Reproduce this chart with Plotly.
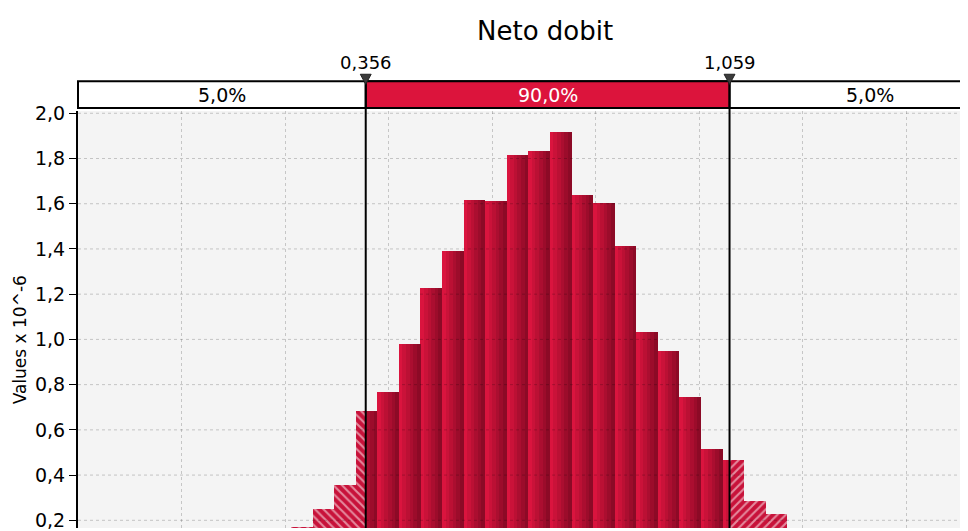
import plotly.graph_objects as go

# ---------------- data ----------------
title_text = "Neto dobit"
y_title = "Values x 10^-6"

bin_centers = [0.2326, 0.2742, 0.3159, 0.3576, 0.3993, 0.4410, 0.4826, 0.5243,
               0.5660, 0.6077, 0.6494, 0.6910, 0.7327, 0.7744, 0.8161, 0.8578,
               0.8994, 0.9411, 0.9828, 1.0245, 1.0662, 1.1078, 1.1495]
bin_width = 0.04168
densities = [0.170, 0.250, 0.356, 0.684, 0.768, 0.978, 1.227, 1.391,
             1.615, 1.610, 1.817, 1.835, 1.918, 1.637, 1.602, 1.413,
             1.031, 0.948, 0.746, 0.517, 0.465, 0.285, 0.228]

pct_marks = [0.356, 1.059]
pct_labels = ["5,0%", "90,0%", "5,0%"]
y_ticks = [0.2, 0.4, 0.6, 0.8, 1.0, 1.2, 1.4, 1.6, 1.8, 2.0]
x_grid_ticks = [0.0, 0.2, 0.4, 0.6, 0.8, 1.0, 1.2, 1.4]
x_full = [-0.2, 1.6]          # full axis extent of the original chart
x_view = [-0.2, 1.5198]       # visible part
y_view = [0.166, 2.01]

FONT = "DejaVu Sans"
CRIMSON = "#DC143C"
c_light = (218, 20, 62)
c_dark = (140, 10, 38)

fig = go.Figure()

lo_mark, hi_mark = pct_marks


def clip(a, b, lo, hi):
    a2, b2 = max(a, lo), min(b, hi)
    return (a2, b2) if b2 > a2 else None


# middle (90%) region with horizontal gradient simulated by strips
N = 6
for j in range(N):
    t = j / (N - 1)
    col = "rgb(%d,%d,%d)" % tuple(int(round(c_light[k] + (c_dark[k] - c_light[k]) * t)) for k in range(3))
    xs, ws, hs = [], [], []
    for c, h in zip(bin_centers, densities):
        l = c - bin_width / 2
        a = l + j * bin_width / N
        b = l + (j + 1) * bin_width / N
        seg = clip(a, b, lo_mark, hi_mark)
        if seg:
            xs.append((seg[0] + seg[1]) / 2)
            ws.append(seg[1] - seg[0] + 0.0004)
            hs.append(h)
    fig.add_trace(go.Bar(x=xs, y=hs, width=ws, marker=dict(color=col, line=dict(width=0)),
                         showlegend=False, hoverinfo="skip"))

# tails (hatched)
for lo, hi, shape in [(-10, lo_mark, "\\"), (hi_mark, 10, "/")]:
    xs, ws, hs = [], [], []
    for c, h in zip(bin_centers, densities):
        seg = clip(c - bin_width / 2, c + bin_width / 2, lo, hi)
        if seg:
            xs.append((seg[0] + seg[1]) / 2)
            ws.append(seg[1] - seg[0])
            hs.append(h)
    fig.add_trace(go.Bar(x=xs, y=hs, width=ws,
                         marker=dict(color="#C8123A", line=dict(width=0),
                                     pattern=dict(shape=shape, fgcolor="white", bgcolor="#C8123A",
                                                  size=6, solidity=0.35)),
                         showlegend=False, hoverinfo="skip"))

shapes = []
# horizontal grid lines drawn above the bars
for v in y_ticks:
    shapes.append(dict(type="line", xref="x domain", yref="y", x0=0, x1=1, y0=v, y1=v,
                       line=dict(color="rgba(0,0,0,0.2)", width=1, dash="dot"), layer="above"))

box_y0 = 1.00714
box_y1 = 1.0714
# header band
shapes.append(dict(type="rect", xref="x domain", yref="paper", x0=0, x1=1.2, y0=box_y0, y1=box_y1,
                   fillcolor="white", line=dict(color="black", width=2), layer="above"))
shapes.append(dict(type="rect", xref="x", yref="paper", x0=lo_mark, x1=hi_mark, y0=box_y0, y1=box_y1,
                   fillcolor=CRIMSON, line=dict(color="black", width=2), layer="above"))
# marker lines + small triangle handles
tri_half = 0.0105
tri_top = 1.0881
tri_tip = 1.0640
for m in pct_marks:
    shapes.append(dict(type="line", xref="x", yref="paper", x0=m, x1=m, y0=0, y1=box_y1,
                       line=dict(color="black", width=2), layer="above"))
    shapes.append(dict(type="path", xref="x", yref="paper",
                       path="M %f,%f L %f,%f L %f,%f Z" % (m - tri_half, tri_top, m + tri_half, tri_top, m, tri_tip),
                       fillcolor="#3c3c3c", line=dict(color="#222222", width=1), layer="above"))

annotations = []
mids = [(x_full[0] + lo_mark) / 2, (lo_mark + hi_mark) / 2, (hi_mark + x_full[1]) / 2]
for xm, lab, colr in zip(mids, pct_labels, ["black", "white", "black"]):
    annotations.append(dict(x=xm, y=(box_y0 + box_y1) / 2, xref="x", yref="paper", text=lab,
                            showarrow=False, font=dict(family=FONT, size=19, color=colr),
                            xanchor="center", yanchor="middle"))
for m in pct_marks:
    annotations.append(dict(x=m, y=1.1167, xref="x", yref="paper",
                            text=("%.3f" % m).replace(".", ","), showarrow=False,
                            font=dict(family=FONT, size=18, color="black"),
                            xanchor="center", yanchor="middle"))
annotations.append(dict(x=(20 - 78) / 890, y=(531 - 342) / 420, xref="paper", yref="paper",
                        text=y_title, textangle=-90,
                        showarrow=False, font=dict(family=FONT, size=17, color="black"),
                        xanchor="center", yanchor="middle"))
annotations.append(dict(x=(545 - 78) / 890, y=(531 - 30) / 420, xref="paper", yref="paper",
                        text=title_text, showarrow=False,
                        font=dict(family=FONT, size=26, color="black"),
                        xanchor="center", yanchor="middle"))

# the page body has an 8px margin; size the figure so the plot lands where the original is
fig.update_layout(
    width=960, height=523,
    margin=dict(l=70, r=0, t=103, b=0),
    paper_bgcolor="white", plot_bgcolor="#F4F4F4",
    barmode="overlay", bargap=0,
    separators=",.",
    showlegend=False,
    shapes=shapes, annotations=annotations,
    font=dict(family=FONT, color="black"),
    xaxis=dict(range=x_view, tickvals=x_grid_ticks, showticklabels=False, ticks="",
               showgrid=True, gridcolor="#C6C6C6", griddash="dot", gridwidth=1,
               zeroline=False, showline=False),
    yaxis=dict(range=y_view, tickvals=y_ticks, tickformat=".1f", ticks="outside", ticklen=7,
               tickcolor="black", tickwidth=1, showgrid=False, zeroline=False,
               showline=True, linecolor="black", linewidth=2, ticklabeloverflow="allow",
               tickfont=dict(family=FONT, size=19, color="black")),
)

fig.write_html("out.html")
